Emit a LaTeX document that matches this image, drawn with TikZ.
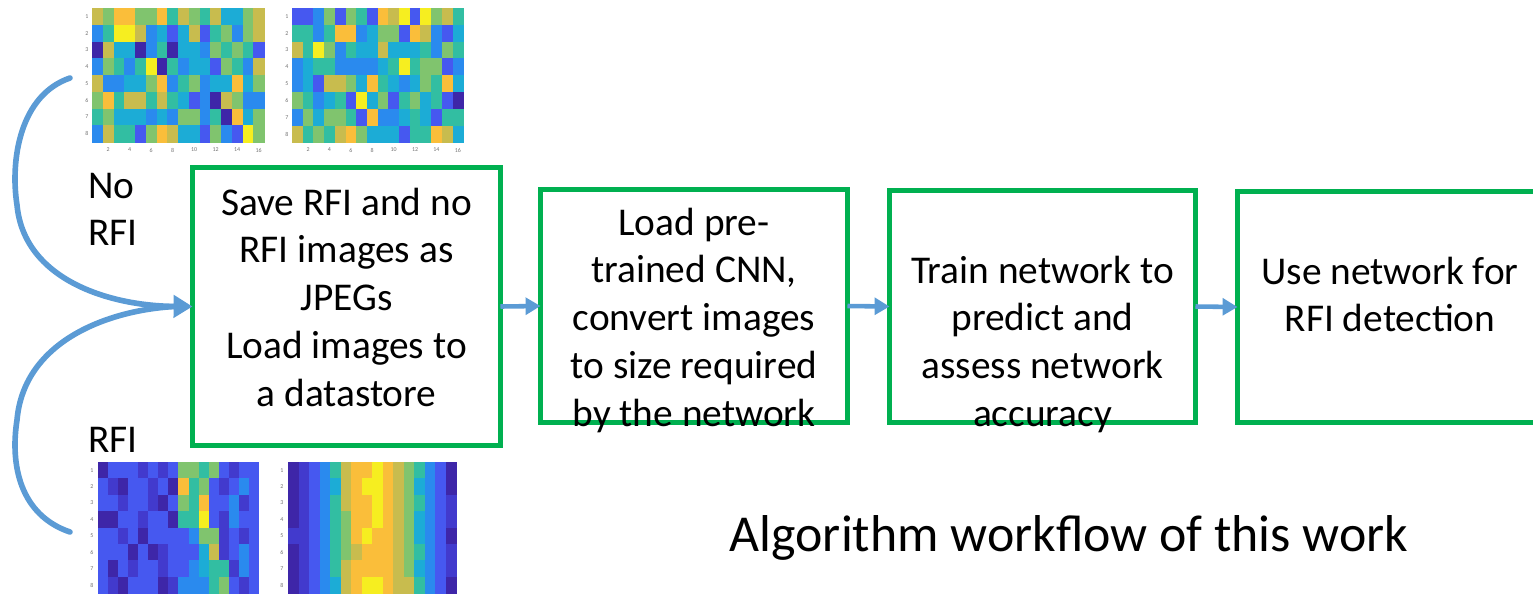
\documentclass[tikz,border=0pt]{standalone}
\usepackage{fontspec}
\setmainfont{Carlito}
\usetikzlibrary{arrows.meta}
\definecolor{boxgreen}{RGB}{0,176,80}
\definecolor{flowblue}{RGB}{91,155,213}
\definecolor{hm0}{RGB}{62,38,168}
\definecolor{hm9}{RGB}{66,58,205}
\definecolor{hm1}{RGB}{70,88,240}
\definecolor{hm2}{RGB}{42,138,238}
\definecolor{hm3}{RGB}{28,172,214}
\definecolor{hm4}{RGB}{50,190,162}
\definecolor{hm5}{RGB}{128,196,110}
\definecolor{hm6}{RGB}{200,188,78}
\definecolor{hm7}{RGB}{250,190,58}
\definecolor{hm8}{RGB}{246,238,32}
\newcommand\boxfont{\fontsize{22.4pt}{27.2pt}\selectfont}
\newcommand\lines[1]{\begin{tabular}[t]{@{}c@{}}#1\end{tabular}}
\newcommand\leftlines[1]{\begin{tabular}[t]{@{}l@{}}#1\end{tabular}}
\newcommand\drawhm[5]{%
  \foreach \hrow [count=\hr] in {#5} {
    \foreach \hv [count=\hc] in \hrow {
      \fill[fill=hm\hv] ({#1+(\hc-1)*#3},{#2+(\hr-1)*#4}) rectangle ++(#3+0.5,#4+0.5);
    }
  }
}
\begin{document}
\begin{tikzpicture}[x=0.02cm,y=-0.02cm,
  stepbox/.style={draw=boxgreen, line width=2.83pt, rectangle, inner sep=0pt, outer sep=0pt},
  boxtext/.style={anchor=base, inner sep=0pt, font=\boxfont, text=black},
  sidelabel/.style={anchor=base west, inner sep=0pt, font=\boxfont, text=black},
  ticklabel/.style={inner sep=0pt, font=\fontsize{3.4pt}{4pt}\selectfont, text=black!55},
  flow/.style={draw=flowblue, line width=3.2pt, line cap=round},
  linkarrow/.style={draw=flowblue, line width=2.6pt, -{Triangle[length=8.5pt,width=9.5pt]}}
]
\useasboundingbox (0,0) rectangle (1533,596);

% heatmaps: no RFI (top)
\drawhm{92}{8}{10.75}{16.75}{{6,5,7,7,5,5,7,4,6,5,4,6,3,3,5,6},{2,4,8,8,6,2,3,1,3,6,1,4,5,2,5,6},{0,6,3,3,0,2,4,0,3,3,2,5,4,5,4,1},{2,5,4,2,4,8,0,4,2,3,3,1,5,4,2,6},{6,2,2,3,3,5,7,2,4,5,2,3,3,7,3,5},{5,7,4,6,6,4,6,4,3,1,2,0,6,5,2,2},{4,5,3,3,3,2,3,2,5,5,2,4,0,7,3,5},{2,6,4,4,1,5,7,6,3,3,1,5,2,1,8,5}}
\drawhm{292}{8}{10.7}{16.8}{{1,1,2,5,1,5,4,1,7,6,8,1,8,5,6,4},{4,4,2,4,7,7,2,3,5,5,1,7,6,2,1,3},{6,4,8,5,2,4,3,3,6,3,3,3,4,2,5,4},{2,3,4,4,2,2,2,2,3,4,8,4,5,5,1,2},{2,3,1,6,6,5,3,7,4,3,2,3,5,4,7,3},{5,4,2,3,4,1,8,3,5,1,4,5,3,4,1,0},{2,5,3,5,5,4,1,7,2,2,3,4,3,1,4,4},{6,4,5,4,6,7,5,3,3,3,1,4,4,7,6,3}}
% heatmaps: RFI (bottom)
\drawhm{98}{462}{10.06}{16.4}{{0,1,1,1,9,1,9,1,5,5,4,5,1,9,1,1},{1,9,0,1,1,9,1,0,7,4,5,1,9,1,2,1},{1,1,9,1,1,9,0,1,5,4,7,1,1,2,9,1},{0,0,1,1,9,1,1,0,4,4,8,1,9,2,1,1},{1,1,9,1,0,1,1,1,1,2,5,5,9,1,9,1},{1,1,1,0,1,0,9,1,1,1,3,6,9,1,2,1},{1,0,1,9,1,1,9,1,1,2,3,4,4,9,2,1},{1,9,0,1,1,1,0,9,2,2,2,4,5,1,9,1}}
\drawhm{288}{462}{10.5}{16.4}{{0,9,1,2,4,6,7,7,8,7,6,5,4,2,1,0},{0,9,1,2,3,6,7,8,8,7,6,5,3,2,1,0},{0,9,1,2,4,6,7,7,8,7,6,5,4,2,1,9},{0,9,1,2,4,5,7,7,8,7,6,5,3,2,1,9},{9,9,1,2,4,5,7,8,7,7,6,5,3,2,1,0},{0,9,1,2,4,5,6,7,7,7,6,5,4,2,1,9},{0,9,1,2,4,6,7,7,7,7,6,5,3,2,1,9},{0,9,1,2,3,6,7,8,8,7,6,6,4,2,1,0}}

% tick labels
\foreach \k in {1,...,8} {
  \node[ticklabel] (ya\k) at (87,{8+(\k-0.5)*16.75}) {\k};
  \node[ticklabel] (yb\k) at (287,{8+(\k-0.5)*16.8}) {\k};
  \node[ticklabel] (yc\k) at (92,{462+(\k-0.5)*16.4}) {\k};
  \node[ticklabel] (yd\k) at (282,{462+(\k-0.5)*16.4}) {\k};
}
\foreach \k [count=\i] in {2,4,...,16} {
  \node[ticklabel] (xa\i) at ({92+(\k-0.5)*10.75},150) {\k};
  \node[ticklabel] (xb\i) at ({292+(\k-0.5)*10.7},150) {\k};
}

% process boxes
\node[stepbox, minimum width=6.16cm, minimum height=5.56cm] (b1) at (346.5,306.5) {};
\node[stepbox, minimum width=6.14cm, minimum height=4.66cm] (b2) at (694,306) {};
\node[stepbox, minimum width=6.12cm, minimum height=4.64cm] (b3) at (1042.5,306.5) {};
\node[stepbox, minimum width=6.12cm, minimum height=4.62cm] (b4) at (1390.5,307) {};

\node[boxtext] (t1) at (346.5,215) {\lines{Save RFI and no\\RFI images as\\JPEGs\\Load images to\\a datastore}};
\node[boxtext] (t2) at (694,235) {\lines{Load pre-\\trained CNN,\\convert images\\to size required\\by the network}};
\node[boxtext] (t3) at (1042.5,283) {\lines{Train network to\\predict and\\assess network\\accuracy}};
\node[boxtext] (t4) at (1390,284) {\lines{Use network for\\RFI detection}};

% side labels
\node[sidelabel] (nolab) at (88,198) {\leftlines{No\\RFI}};
\node[sidelabel] (rfilab) at (88,452) {RFI};

% title
\node[anchor=base, inner sep=0pt, font=\fontsize{29.5pt}{35pt}\selectfont] (title) at (1069,551) {Algorithm workflow of this work};

% connectors between boxes
\draw[linkarrow] (b1.east) -- (b2.west);
\draw[linkarrow] (b2.east) -- (b3.west);
\draw[linkarrow] (b3.east) -- (b4.west);

% curved inputs
\coordinate (s1) at (70,78);
\coordinate (s2) at (70,532);
\coordinate (m) at ([xshift=-0.36cm]b1.west);
\draw[flow] (s2) .. controls (20,515) and (10,465) .. (17,420) .. controls (24,340) and (110,310) .. (m);
\draw[flow, -{Triangle[length=10.8pt,width=12.5pt]}] (s1) .. controls (20,95) and (10,160) .. (17,205) .. controls (24,280) and (110,306) .. (b1.west);
\end{tikzpicture}
\end{document}
